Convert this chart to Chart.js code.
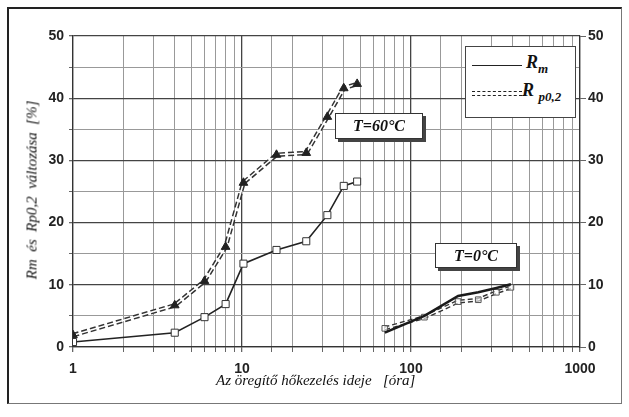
<!DOCTYPE html>
<html>
<head>
<meta charset="utf-8">
<script src="https://cdn.jsdelivr.net/npm/chart.js@4.4.1/dist/chart.umd.min.js"></script>
<style>
    body { margin: 0; background: #fff; }
    #wrap { position: relative; width: 629px; height: 417px; overflow: hidden; }
    #frame { position: absolute; left: 7px; top: 7px; width: 612px; height: 394px;
             border-left: 2px solid #222; border-top: 2px solid #222;
             border-right: 1px solid #777; border-bottom: 1px solid #777; }
    .ann { position: absolute; background: #fff; border: 1px solid #333;
           box-shadow: 3px 3px 0 #444; font: italic bold 16px "Liberation Serif", serif;
           color: #111; text-align: center; }
    .title { position: absolute; font: italic 15px "Liberation Serif", serif; color: #111; white-space: pre; }
    #legend { position: absolute; left: 465px; top: 46px; width: 109px; height: 70px;
              border: 1px solid #444; background: #fff; }
    .lg-txt { position: absolute; font: italic bold 18px "Liberation Serif", serif; color: #111; }
    .lg-txt sub { font-size: 13px; vertical-align: -5px; }
</style>
</head>
<body>
<div id="wrap">
    <canvas id="chart" width="629" height="417"></canvas>
    <div id="frame"></div>

    <div id="legend">
        <div style="position:absolute; left:6px; top:18px; width:50px; border-top:1.5px solid #222;"></div>
        <div class="lg-txt" style="left:60px; top:5px;">R<sub>m</sub></div>
        <div style="position:absolute; left:6px; top:44px; width:50px; border-top:1.5px dashed #222;"></div>
        <div style="position:absolute; left:6px; top:48px; width:50px; border-top:1.5px dashed #222;"></div>
        <div class="lg-txt" style="left:56px; top:33px;">R <sub>p0,2</sub></div>
    </div>

    <div class="ann" style="left:335px; top:113px; width:86px; height:24px; line-height:24px;">T=60°C</div>
    <div class="ann" style="left:435px; top:243px; width:80px; height:23px; line-height:23px;">T=0°C</div>

    <div class="title" style="left:216px; top:372px;">Az öregítő hőkezelés ideje   [óra]</div>
    <div class="title" style="left:32px; top:190px; transform: translate(-50%, -50%) rotate(-90deg);">Rm  és  Rp0,2  változása  [%]</div>
</div>

<script>
// hőkezelési idő [óra]
const hours60 = [1, 4, 6, 8, 10.2, 16, 24, 32, 40, 48];
const rm60 = [0.8, 2.3, 4.8, 6.9, 13.4, 15.6, 17.0, 21.2, 25.9, 26.6];
const rp60 = [1.9, 6.7, 10.6, 16.1, 26.4, 30.9, 31.2, 37.0, 41.6, 42.3];

const hours0 = [70, 120, 190, 250, 320, 390];
const rm0 = [2.3, 5.0, 8.2, 8.8, 9.5, 10.1];
const rp0 = [3.0, 4.8, 7.3, 7.6, 8.8, 9.6];

const xLabels = [1, 10, 100, 1000];
const yLabels = [0, 10, 20, 30, 40, 50];

const pts = (xs, ys) => xs.map((x, i) => ({ x, y: ys[i] }));
const tickFont = { family: '"Liberation Sans", Arial, sans-serif', size: 14, weight: 'bold' };

const datasets = [
    // T=60°C, Rm
    { data: pts(hours60, rm60), borderColor: '#222', borderWidth: 1.6,
      pointStyle: 'rect', pointRadius: 5, pointBackgroundColor: '#fff',
      pointBorderColor: '#333', pointBorderWidth: 1, order: 0 },
    // T=60°C, Rp0,2 (double dashed line + triangles)
    { data: pts(hours60, rp60), borderColor: '#333', borderWidth: 4.5, borderDash: [6, 3],
      pointRadius: 0, order: 3 },
    { data: pts(hours60, rp60), borderColor: '#fff', borderWidth: 1.5, pointRadius: 0, order: 2 },
    { data: pts(hours60, rp60), showLine: false, pointStyle: 'triangle', pointRadius: 5,
      pointBackgroundColor: '#222', pointBorderColor: '#222', order: 1 },
    // T=0°C, Rm
    { data: pts(hours0, rm0), borderColor: '#1a1a1a', borderWidth: 2.5, pointRadius: 0, order: 0 },
    // T=0°C, Rp0,2
    { data: pts(hours0, rp0), borderColor: '#333', borderWidth: 4, borderDash: [5, 3],
      pointRadius: 0, order: 3 },
    { data: pts(hours0, rp0), borderColor: '#fff', borderWidth: 1.2, pointRadius: 0, order: 2 },
    { data: pts(hours0, rp0), showLine: false, pointStyle: 'rect', pointRadius: 4,
      pointBackgroundColor: 'rgba(255,255,255,0.6)', pointBorderColor: '#555', pointBorderWidth: 1, order: 1 }
];

new Chart(document.getElementById('chart'), {
    type: 'line',
    data: { datasets },
    options: {
        responsive: false,
        animation: false,
        layout: { padding: { top: 36, left: 0, right: 0, bottom: 0 } },
        plugins: { legend: { display: false }, tooltip: { enabled: false } },
        elements: { line: { tension: 0 } },
        scales: {
            x: {
                type: 'logarithmic', min: 1, max: 1000, position: 'bottom',
                afterFit: s => { s.height = 70; },
                border: { color: '#333', width: 1.2 },
                grid: {
                    color: c => xLabels.includes(c.tick && c.tick.value) ? '#444' : '#999',
                    lineWidth: c => xLabels.includes(c.tick && c.tick.value) ? 1.3 : 1,
                    tickLength: 5, tickColor: '#666'
                },
                ticks: {
                    autoSkip: false, maxRotation: 0, padding: 9, color: '#222', font: tickFont,
                    callback: v => xLabels.includes(v) ? String(v) : ''
                }
            },
            y: {
                min: 0, max: 50, position: 'left',
                afterFit: s => { s.width = 73; },
                border: { color: '#333', width: 1.2 },
                grid: {
                    color: c => c.tick && yLabels.includes(c.tick.value) ? '#444' : '#999',
                    lineWidth: c => c.tick && yLabels.includes(c.tick.value) ? 1.3 : 1,
                    tickLength: 4, tickColor: '#666'
                },
                ticks: {
                    stepSize: 5, padding: 5, color: '#222', font: tickFont,
                    callback: v => yLabels.includes(v) ? String(v) : ''
                }
            },
            y1: {
                min: 0, max: 50, position: 'right',
                afterFit: s => { s.width = 49; },
                border: { color: '#333', width: 1.2 },
                grid: { drawOnChartArea: false, tickLength: 6, tickColor: '#666' },
                ticks: {
                    stepSize: 10, padding: 2, color: '#222', font: tickFont,
                    callback: v => yLabels.includes(v) ? String(v) : ''
                }
            }
        }
    }
});
</script>
</body>
</html>
